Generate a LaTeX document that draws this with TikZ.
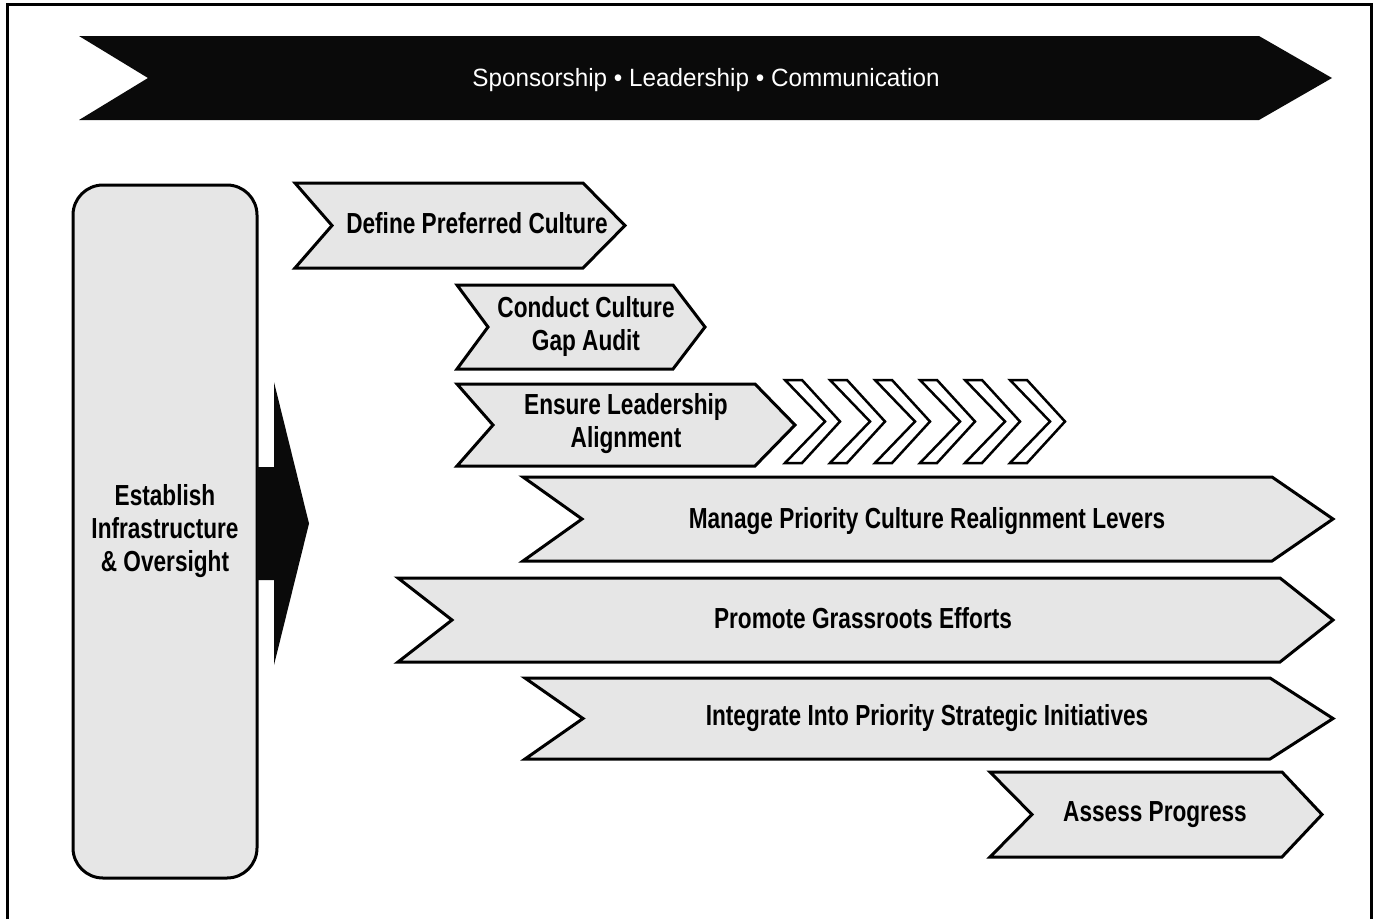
\documentclass[tikz,border=0pt]{standalone}
\usepackage{fontspec}
\setmainfont{Liberation Sans}
\newfontfamily\labfont[FakeStretch=0.78]{Liberation Sans}
\newfontfamily\banfont[FakeStretch=0.97]{Liberation Sans}
\definecolor{chevfill}{RGB}{230,230,230}
\definecolor{banblack}{RGB}{10,10,10}
\newcommand\mychev[6]{%
  \draw[chev] (#1,#2) -- (#5,#2) -- (#6,{(#2+#3)/2}) -- (#5,#3) -- (#1,#3) -- (#4,{(#2+#3)/2}) -- cycle;}
\newcommand\minichev[1]{%
  \draw[mini] (#1,380) -- ({#1+17},380) -- ({#1+55},421.5) -- ({#1+17},463) -- (#1,463) -- ({#1+40},421.5) -- cycle;}
\begin{document}
\begin{tikzpicture}[x=1pt,y=-1pt,
  chev/.style={draw=black, line width=3pt, fill=chevfill, line join=miter},
  mini/.style={draw=black, line width=2.5pt, fill=white, line join=miter},
  lab/.style={font=\labfont\bfseries\fontsize{29}{33}\selectfont, align=center, inner sep=0pt, text=black},
  ban/.style={font=\banfont\fontsize{25}{30}\selectfont, inner sep=0pt, text=white},
]
\useasboundingbox (0,0) rectangle (1379,919);
% frame
\draw[line width=3pt] (7,919) -- (7,4.5) -- (1371,4.5) -- (1371,919);
% banner
\fill[banblack] (79,36) -- (1259,36) -- (1332,78) -- (1259,120) -- (79,120) -- (148,78) -- cycle;
\node[ban, anchor=base] (banner) at (706,86) {Sponsorship \textbullet\ Leadership \textbullet\ Communication};
% left box
\node[draw=black, line width=3pt, fill=chevfill, rounded corners=30pt,
      minimum width=184pt, minimum height=693pt, lab] (est) at (165,531.5)
      {Establish\\Infrastructure\\\& Oversight};
% black arrow
\fill[banblack] (257,467) -- (274,467) -- (274,382) -- (309,523.5) -- (274,665) -- (274,580) -- (257,580) -- cycle;
% chevrons
\mychev{295}{183}{268}{332}{583}{625}
\node[lab, anchor=base] (define) at (477,233) {Define Preferred Culture};
\mychev{457}{285}{369}{488}{673}{705}
\node[lab] (conduct) at (586,326.5) {Conduct Culture\\Gap Audit};
\mychev{457}{384}{466}{493}{755}{795}
\node[lab] (ensure) at (626,424) {Ensure Leadership\\Alignment};
\foreach \i in {0,...,5}{\pgfmathsetmacro\xx{785+45*\i}\minichev{\xx}}
\mychev{523}{477}{561}{582}{1272}{1333}
\node[lab, anchor=base] (manage) at (927,528) {Manage Priority Culture Realignment Levers};
\mychev{398}{578}{662}{452}{1280}{1333}
\node[lab, anchor=base] (promote) at (863,628) {Promote Grassroots Efforts};
\mychev{525}{678}{759}{583}{1270}{1333}
\node[lab, anchor=base] (integrate) at (927,725) {Integrate Into Priority Strategic Initiatives};
\mychev{990}{772}{857}{1032}{1282}{1322}
\node[lab, anchor=base] (assess) at (1155,821) {Assess Progress};
\end{tikzpicture}
\end{document}
